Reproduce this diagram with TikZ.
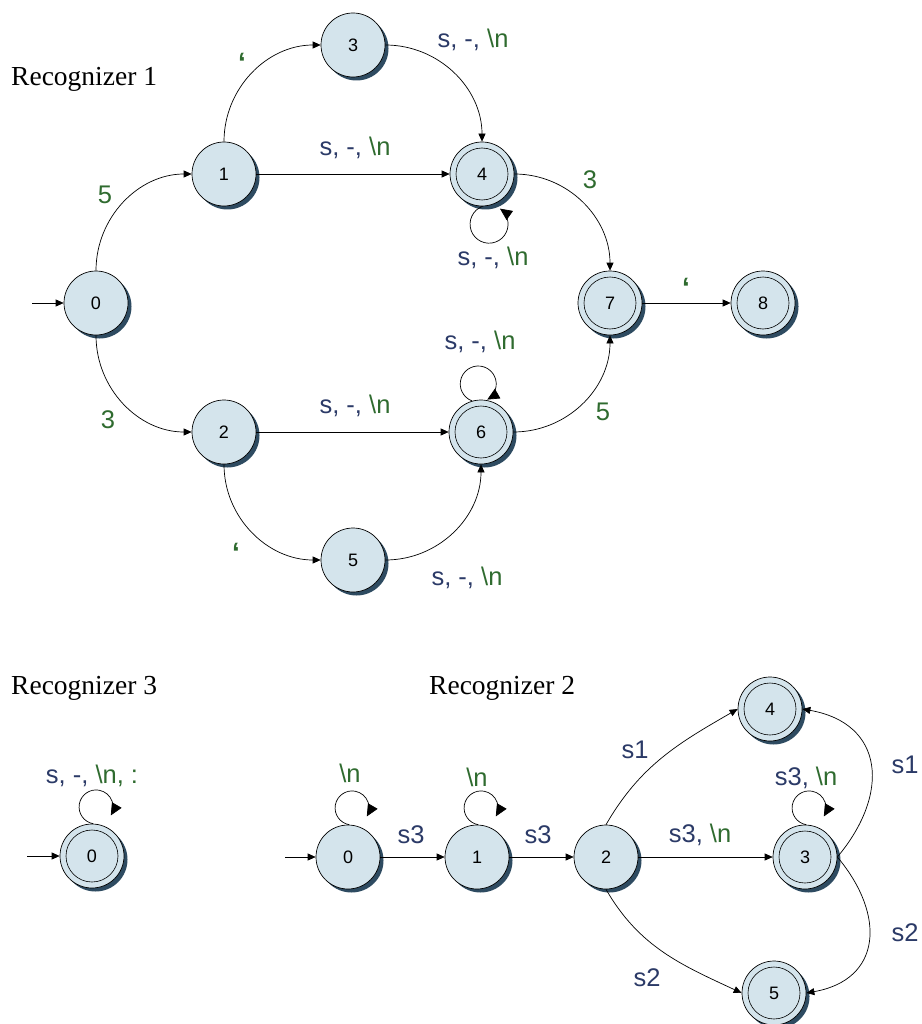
\documentclass[tikz,border=0pt]{standalone}
\usepackage{fontspec}
\setmainfont{Liberation Sans}
\newfontfamily\titlefont{Liberation Serif}
\usetikzlibrary{arrows.meta,shadows}
\definecolor{nodefill}{HTML}{D4E4EC}
\definecolor{shadowc}{HTML}{2E4B61}
\definecolor{nv}{HTML}{2B3A67}
\definecolor{gr}{HTML}{2F6B2F}
\newcommand{\sdn}{{\color{nv}s, -, }{\color{gr}\textbackslash n}}
\begin{document}
\begin{tikzpicture}[x=1pt,y=1pt,
  st/.style={circle, draw=black, line width=0.7pt, fill=nodefill, minimum size=64pt, inner sep=0pt,
    font=\fontsize{18}{21}\selectfont,
    drop shadow={shadow xshift=3.5pt, shadow yshift=-3.5pt, opacity=1, fill=shadowc, draw=none}},
  edge/.style={line width=0.7pt, -{Triangle[length=8pt,width=7pt]}},
  loopedge/.style={line width=0.7pt, -{Triangle[length=12pt,width=11pt]}},
  lbl/.style={font=\fontsize{25.5}{29}\selectfont, inner sep=0pt},
  quot/.style={font=\fontsize{28}{30}\selectfont\bfseries, inner sep=0pt, text=gr},
  title/.style={font=\titlefont\fontsize{27.5}{32}\selectfont, anchor=base west, inner sep=0pt},
  innerring/.style={line width=0.6pt}]

\useasboundingbox[fill=white] (0,0) rectangle (921,-1024);

% ---------- Recognizer 1 ----------
\node[title] (t1) at (11,-86) {Recognizer 1};

\node[st] (a0) at (96,-303) {0};
\node[st] (a1) at (224,-174) {1};
\node[st] (a2) at (224,-432) {2};
\node[st] (a3) at (353,-45) {3};
\node[st] (a4) at (482,-174) {4};
\node[st] (a5) at (353,-560) {5};
\node[st] (a6) at (481,-432) {6};
\node[st] (a7) at (610,-303) {7};
\node[st] (a8) at (763,-303) {8};

\coordinate (s1) at (32,-303);
\draw[edge] (s1) -- (a0);
\draw[edge] (a0.north) to[out=90,in=180] (a1.west);
\draw[edge] (a0.south) to[out=-90,in=180] (a2.west);
\draw[edge] (a1.north) to[out=90,in=180] (a3.west);
\draw[edge] (a1) -- (a4);
\draw[edge] (a3.east) to[out=0,in=90] (a4.north);
\draw[edge] (a4.east) to[out=0,in=90] (a7.north);
\draw[edge] (a2) -- (a6);
\draw[edge] (a2.south) to[out=-90,in=180] (a5.west);
\draw[edge] (a5.east) to[out=0,in=-90] (a6.south);
\draw[edge] (a6.east) to[out=0,in=-90] (a7.south);
\draw[edge] (a7) -- (a8);
\draw[loopedge] (a4.-89) arc[start angle=110, delta angle=305, radius=19];
\draw[loopedge] (a6.106) arc[start angle=250, delta angle=-310, radius=18];

\node[lbl, text=gr] (l1) at (105,-195) {5};
\node[lbl, text=gr] (l2) at (108,-420) {3};
\node[quot] (l3) at (242,-63) {‘};
\node[lbl] (l4) at (473,-40) {\sdn};
\node[lbl] (l5) at (355,-148) {\sdn};
\node[lbl, text=gr] (l6) at (590,-180) {3};
\node[lbl] (l7) at (493,-258) {\sdn};
\node[quot] (l8) at (686,-288) {‘};
\node[lbl] (l9) at (480,-342) {\sdn};
\node[lbl] (l10) at (355,-406) {\sdn};
\node[lbl, text=gr] (l11) at (603,-412) {5};
\node[quot] (l12) at (236,-553) {‘};
\node[lbl] (l13) at (467,-578) {\sdn};

% ---------- Recognizer 3 ----------
\node[title] (t3) at (11,-694) {Recognizer 3};
\node[st] (c0) at (92,-856) {0};
\coordinate (s3) at (27,-856);
\draw[edge] (s3) -- (c0);
\draw[loopedge] (c0.88) arc[start angle=-100, delta angle=-290, radius=17];
\node[lbl] (l14) at (92,-776) {{\color{nv}s, -, }{\color{gr}\textbackslash n, :}};

% ---------- Recognizer 2 ----------
\node[title] (t2) at (429,-694) {Recognizer 2};
\node[st] (b0) at (348,-857) {0};
\node[st] (b1) at (477,-857) {1};
\node[st] (b2) at (606,-857) {2};
\node[st] (b3) at (805,-857) {3};
\node[st] (b4) at (770,-709) {4};
\node[st] (b5) at (774,-993) {5};

\coordinate (s2) at (285,-857);
\draw[edge] (s2) -- (b0);
\draw[edge] (b0) -- (b1);
\draw[edge] (b1) -- (b2);
\draw[edge] (b2) -- (b3);
\draw[edge] (b2.north) to[out=60,in=210] (b4.west);
\draw[edge] (b2.south) to[out=-60,in=155] (b5.west);
\draw[edge] (b3.east) to[out=50,in=-10,looseness=1.4] (b4.east);
\draw[edge] (b3.east) to[out=-50,in=10,looseness=1.4] (b5.east);
\draw[loopedge] (b0.88) arc[start angle=-100, delta angle=-290, radius=17];
\draw[loopedge] (b1.88) arc[start angle=-100, delta angle=-290, radius=17];
\draw[loopedge] (b3.88) arc[start angle=-100, delta angle=-290, radius=17];

\node[lbl, text=gr] (m1) at (350,-773) {\textbackslash n};
\node[lbl, text=gr] (m2) at (477,-777) {\textbackslash n};
\node[lbl, text=nv] (m3) at (411,-835) {s3};
\node[lbl, text=nv] (m4) at (538,-835) {s3};
\node[lbl] (m5) at (700,-835) {{\color{nv}s3, }{\color{gr}\textbackslash n}};
\node[lbl] (m6) at (806,-778) {{\color{nv}s3, }{\color{gr}\textbackslash n}};
\node[lbl, text=nv] (m7) at (635,-750) {s1};
\node[lbl, text=nv] (m8) at (905,-765) {s1};
\node[lbl, text=nv] (m9) at (647,-978) {s2};
\node[lbl, text=nv] (m10) at (905,-933) {s2};

% accepting rings
\foreach \n in {a4,a6,a7,a8,c0,b3,b4,b5}
  \draw[innerring] (\n.center) circle[radius=26pt];
\end{tikzpicture}
\end{document}
